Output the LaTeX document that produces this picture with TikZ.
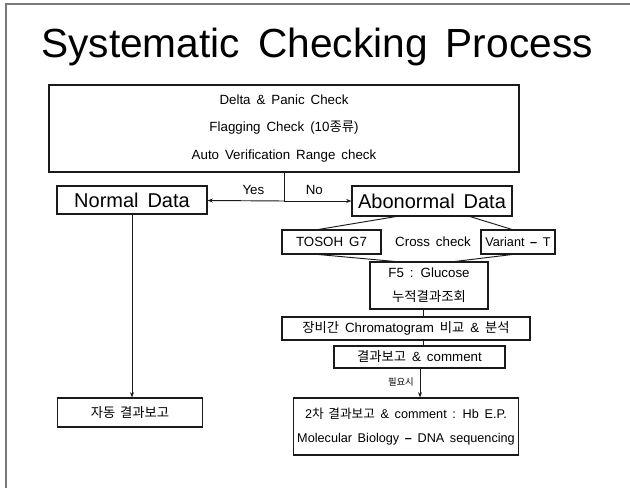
\documentclass[tikz,border=0pt]{standalone}
\usepackage{fontspec}
\setmainfont{Liberation Sans}[WordSpace=1.6]
\newfontfamily\kr{Noto Sans CJK KR}[WordSpace=1.6]
\usetikzlibrary{arrows.meta,positioning,calc}
\definecolor{ink}{HTML}{1A1A1A}
\definecolor{rule}{HTML}{7A7A7A}
\tikzset{
  box/.style={draw=ink,line width=0.8pt,inner sep=0pt,align=center,
    font=\fontsize{10}{18}\selectfont},
  bigbox/.style={box,font=\fontsize{15}{17}\selectfont},
  link/.style={draw=ink,line width=0.7pt},
  flow/.style={link,-{Stealth[length=4pt,width=3pt]}},
  lbl/.style={font=\fontsize{10}{12}\selectfont}
}

\begin{document}
\begin{tikzpicture}[x=0.75pt,y=-0.75pt]
  \useasboundingbox (0,0) rectangle (630,488);
  \draw[rule,line width=1.4pt] (6,488) -- (6,4) -- (630,4);
  \node[font=\fontsize{30.5}{36}\selectfont] (title) at (317,47) {Systematic Checking Process};

  % first screening
  \node[box,minimum width=352.5pt,minimum height=65.25pt,font=\fontsize{10}{20.6}\selectfont] (chk) at (284,128.5)
    {Delta \& Panic Check\\Flagging Check (10{\kr 종류})\\Auto Verification Range check};
  \node[bigbox,minimum width=112.5pt,minimum height=21pt] (nrm) at (132,200) {Normal Data};
  \node[bigbox,minimum width=120pt,minimum height=22.5pt] (abn) at (432,201) {Abonormal Data};
  \coordinate (split) at (chk.south |- abn.west);
  \node[box,minimum width=108.75pt,minimum height=21.75pt] (auto) at (130,412.5) {\kr 자동 결과보고};

  % abnormal branch
  \node[box,minimum width=74.25pt,minimum height=18pt] (tosoh) at (331.5,242) {TOSOH G7};
  \node[lbl] (cross) at (433,242) {Cross check};
  \node[box,minimum width=55.5pt,minimum height=18pt,font=\fontsize{9.5}{12}\selectfont] (vart) at (518,242) {Variant {\bfseries --} T};
  \node[box,minimum width=88.5pt,minimum height=35.25pt] (f5) at (429,285.5) {F5 : Glucose\\{\kr 누적결과조회}};
  \node[box,minimum width=186pt,minimum height=17.25pt] (chrom) at (406,328.5) {{\kr 장비간} Chromatogram {\kr 비교} \& {\kr 분석}};
  \node[box,minimum width=128.25pt,minimum height=16.5pt] (rpt) at (419.5,357) {{\kr 결과보고} \& comment};
  \node[box,minimum width=168.75pt,minimum height=42.75pt,font=\fontsize{9.5}{18}\selectfont] (rpt2) at (406,426.5)
    {2{\kr 차 결과보고} \& comment : Hb E.P.\\Molecular Biology {\bfseries --} DNA sequencing};

  \draw[link] (chk.south) -- (split);
  \draw[flow] (split) -- (nrm) node[lbl,pos=0.4,above=1pt] {Yes};
  \draw[flow] (split) -- (abn) node[lbl,pos=0.45,above=1pt] {No};
  \draw[flow] (nrm.south) -- (nrm.south |- auto.north);
  \draw[link] ($(abn.south)+(-36,0)$) -- ($(tosoh.north)+(-13,0)$);
  \draw[link] ($(abn.south)+(38,0)$) -- ($(vart.north)+(-6,0)$);
  \draw[link] ($(tosoh.south)+(-13,0)$) -- ($(f5.north)+(-34,0)$);
  \draw[link] ($(vart.south)+(-6,0)$) -- ($(f5.north)+(26,0)$);
  \draw[link] ($(f5.south)+(-6,0)$) -- ($(f5.south |- chrom.north)+(-6,0)$);
  \draw[link] ($(f5.south |- chrom.south)+(-6,0)$) -- ($(f5.south |- rpt.north)+(-6,0)$);
  \draw[flow] ($(f5.south |- rpt.south)+(-9,0)$) -- ($(f5.south |- rpt2.north)+(-9,0)$)
    node[pos=0.45,left=1pt,font=\kr\fontsize{7}{8}\selectfont] {필요시};
\end{tikzpicture}
\end{document}
